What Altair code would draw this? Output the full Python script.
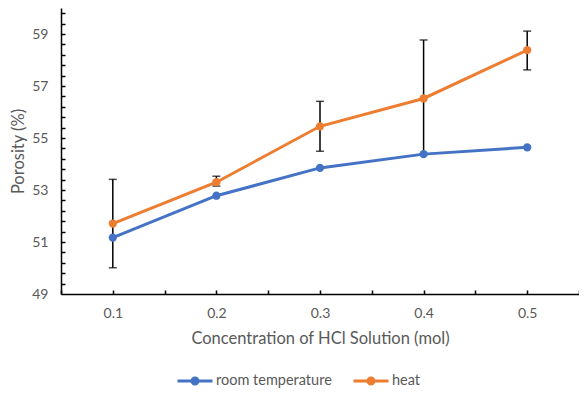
import altair as alt
import pandas as pd

# ---- data ----
conc = [0.1, 0.2, 0.3, 0.4, 0.5]
room = [51.17, 52.78, 53.85, 54.38, 54.64]
heat = [51.71, 53.30, 55.45, 56.52, 58.38]
heat_lo = [50.01, 53.15, 54.49, 54.38, 57.62]
heat_hi = [53.41, 53.53, 56.41, 58.77, 59.11]
series_names = ["room temperature", "heat"]
series_colors = ["#4472C4", "#ED7D31"]

x_labels = [0.1, 0.2, 0.3, 0.4, 0.5]
x_minor = [0.05, 0.1, 0.15, 0.2, 0.25, 0.3, 0.35, 0.4, 0.45, 0.5, 0.55]
y_labels = [49, 51, 53, 55, 57, 59]
y_minor = [49.4, 49.8, 50.2, 50.6, 51.0, 51.4, 51.8, 52.2, 52.6, 53.0, 53.4,
           53.8, 54.2, 54.6, 55.0, 55.4, 55.8, 56.2, 56.6, 57.0, 57.4, 57.8,
           58.2, 58.6, 59.0, 59.4, 59.8]

df = pd.DataFrame({
    "conc": conc + conc,
    "value": room + heat,
    "series": [series_names[0]] * len(conc) + [series_names[1]] * len(conc),
})
err = pd.DataFrame({"conc": conc, "lo": heat_lo, "hi": heat_hi})

FONT = "Lato"
TXT = "#595959"

xscale = alt.Scale(domain=[0.05, 0.55], nice=False, zero=False)
yscale = alt.Scale(domain=[49, 60], nice=False, zero=False)

legend = alt.Legend(
    title=None,
    orient="none",
    direction="horizontal",
    legendX=115,
    legendY=354,
    symbolType="M-1,0L1,0M-0.17,0A0.17,0.17,0,1,1,0.17,0A0.17,0.17,0,1,1,-0.17,0Z",
    symbolSize=1225,
    symbolStrokeWidth=3,
    symbolOpacity=1,
    labelFont=FONT,
    labelFontSize=14.5,
    labelColor=TXT,
    labelOffset=2,
    columnPadding=15,
)
color = alt.Color("series:N", scale=alt.Scale(domain=series_names, range=series_colors),
                  legend=legend)

line = alt.Chart(df).mark_line(strokeWidth=3).encode(
    x=alt.X("conc:Q", scale=xscale, title="Concentration of HCl Solution (mol)",
            axis=alt.Axis(values=x_labels, format=".1f", ticks=False, grid=False,
                          domainColor="#000000", domainWidth=1.5,
                          labelPadding=12, titlePadding=10, orient="bottom")),
    y=alt.Y("value:Q", scale=yscale, title="Porosity (%)",
            axis=alt.Axis(values=y_labels, ticks=False, grid=False,
                          domainColor="#000000", domainWidth=1.5,
                          labelPadding=13, titlePadding=5, orient="left")),
    color=color,
)

pts = alt.Chart(df).mark_circle(size=68, opacity=1).encode(
    x=alt.X("conc:Q", scale=xscale, axis=None),
    y=alt.Y("value:Q", scale=yscale, axis=None),
    color=color,
)

rule = alt.Chart(err).mark_rule(color="#000000", strokeWidth=1.5).encode(
    x=alt.X("conc:Q", scale=xscale,
            axis=alt.Axis(values=x_minor, labels=False, domain=False, grid=False,
                          tickSize=4, offset=-4, tickColor="#000000", tickWidth=1.5,
                          title=None, orient="bottom")),
    y=alt.Y("lo:Q", scale=yscale,
            axis=alt.Axis(values=y_minor, labels=False, domain=False, grid=False,
                          tickSize=4, offset=-4, tickColor="#000000", tickWidth=1.5,
                          title=None, orient="left")),
    y2="hi:Q",
)

cap_lo = alt.Chart(err).mark_tick(color="#000000", orient="horizontal", size=8, thickness=1.5).encode(
    x=alt.X("conc:Q", scale=xscale, axis=None),
    y=alt.Y("lo:Q", scale=yscale, axis=None),
)
cap_hi = alt.Chart(err).mark_tick(color="#000000", orient="horizontal", size=8, thickness=1.5).encode(
    x=alt.X("conc:Q", scale=xscale, axis=None),
    y=alt.Y("hi:Q", scale=yscale, axis=None),
)

chart = alt.layer(rule, cap_lo, cap_hi, line, pts).resolve_axis(
    x="independent", y="independent"
).properties(
    width=518, height=286,
    autosize=alt.AutoSizeParams(type="none"),
    padding={"left": 53, "top": 0, "right": 0, "bottom": 98},
).configure_axis(
    labelFont=FONT, labelFontSize=14, labelColor=TXT,
    titleFont=FONT, titleFontSize=16.5, titleColor=TXT, titleFontWeight="normal",
).configure_view(stroke=None)

chart.save("out.html", embed_options={"renderer": "svg", "actions": False})
